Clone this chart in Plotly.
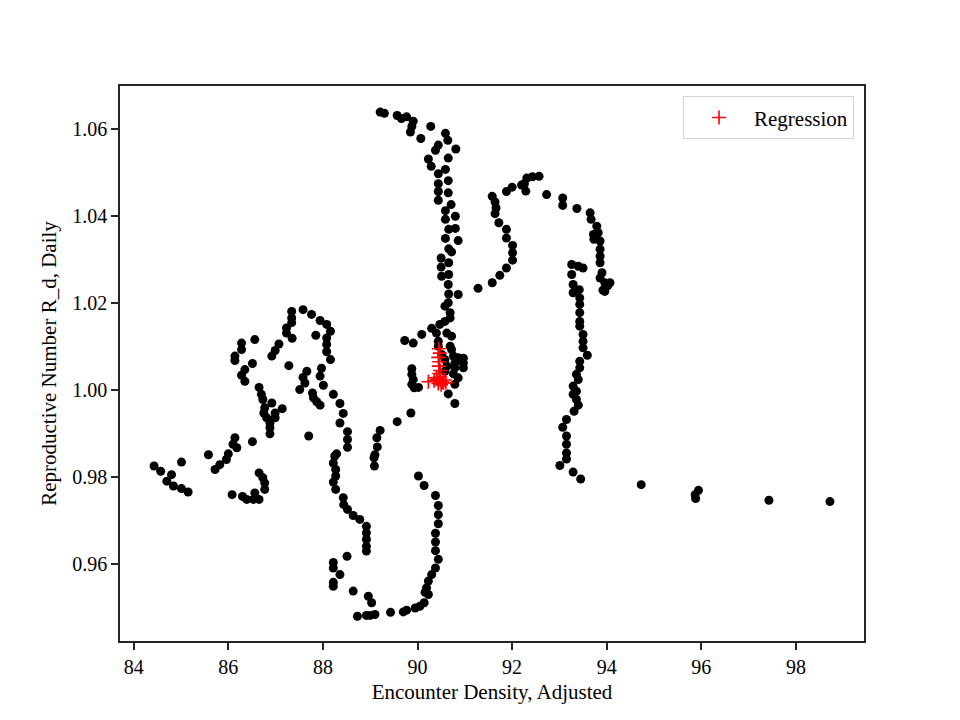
import plotly.graph_objects as go

# Black observation points (Encounter Density, Adjusted ; Reproductive Number R_d)
obs_x = [
    89.21, 89.30, 89.57, 89.66, 89.77, 89.91, 89.88, 89.85, 90.07, 90.28, 90.59, 90.64, 90.81, 90.44, 90.38,
    90.23, 90.29, 90.65, 90.59, 90.44, 90.65, 90.44, 90.44, 90.65, 90.44, 90.71, 90.59, 90.80, 90.59, 90.66,
    90.80, 90.59, 90.86, 90.66, 90.72, 90.50, 90.66, 90.50, 90.51, 90.66, 90.65, 90.86, 90.66, 90.65, 90.58,
    90.69, 90.69, 90.58, 90.47, 90.30, 90.40, 90.62, 90.72, 90.09, 89.73, 89.91, 90.44, 90.44, 90.69, 90.72,
    90.51, 90.76, 90.86, 90.97, 90.58, 90.79, 90.97, 90.62, 90.79, 90.97, 90.58, 90.76, 90.86, 90.79, 90.65,
    90.79, 89.88, 89.88, 89.91, 89.88, 90.02, 89.93, 89.86, 89.57, 89.21, 89.14, 89.15, 89.10, 89.08, 89.09,
    91.28, 91.58, 91.74, 91.88, 92.01, 92.01, 92.01, 91.88, 91.88, 91.72, 91.64, 91.66, 91.64, 91.58, 91.88,
    92.00, 92.20, 92.26, 92.29, 92.31, 92.43, 92.57, 92.73, 93.07, 93.07, 93.37, 93.65, 93.67, 93.79, 93.72,
    93.82, 93.73, 93.86, 93.86, 93.86, 93.86, 93.86, 93.96, 93.96, 94.07, 93.90, 94.02, 93.92, 93.26, 93.40,
    93.50, 93.26, 93.29, 93.29, 93.42, 93.43, 93.43, 93.43, 93.43, 93.43, 93.50, 93.50, 93.50, 93.59, 93.43,
    93.43, 93.36, 93.40, 93.29, 93.36, 93.29, 93.36, 93.40, 93.31, 93.15, 93.07, 93.15, 93.15, 93.15, 93.15,
    93.01, 93.29, 93.45, 94.73, 95.87, 95.88, 95.94, 97.43, 98.72,
    87.34, 87.34, 87.34, 87.23, 87.23, 87.35, 87.58, 87.76, 87.94, 88.08, 88.16, 88.08, 88.08, 88.08, 88.16,
    87.85, 86.56, 86.28, 86.28, 86.14, 86.14, 86.51, 86.35, 86.28, 86.35, 87.07, 86.99, 86.92, 87.28, 87.66,
    87.58, 87.62, 87.51, 87.97, 87.94, 88.01, 87.78, 87.80, 87.87, 87.94, 88.22, 88.36, 88.43, 88.36, 88.52,
    88.52, 88.52, 88.29, 87.70, 86.65, 86.70, 86.73, 86.92, 87.14, 86.77, 86.75, 86.99, 86.81, 86.99, 86.88,
    86.88, 86.88, 86.14, 86.51, 86.10, 86.18, 86.00, 85.58, 84.43, 84.57, 84.80, 84.70, 84.84, 85.01, 85.15,
    85.01, 85.72, 85.82, 85.96, 86.65, 86.73, 86.77, 86.77, 86.08, 86.30, 86.39, 86.53, 86.56, 86.65, 88.25,
    88.22, 88.27, 88.27, 88.22, 88.27, 88.43, 88.44, 88.52, 88.64, 88.78, 88.92, 88.92, 88.92, 88.92, 88.92,
    88.51, 88.22, 88.22, 88.36, 88.22, 88.22, 88.64, 88.96, 89.03, 88.73, 88.92, 89.00, 89.10, 89.43, 89.70,
    89.77, 89.95, 90.05, 90.14, 90.23, 90.16, 90.19, 90.23, 90.30, 90.38, 90.44, 90.38, 90.38, 90.38, 90.44,
    90.44, 90.44, 90.38, 90.14, 90.02,
]
obs_y = [
    1.0640, 1.0637, 1.0632, 1.0625, 1.0629, 1.0619, 1.0607, 1.0594, 1.0579, 1.0607, 1.0591, 1.0575, 1.0555, 1.0564, 1.0552,
    1.0532, 1.0515, 1.0534, 1.0508, 1.0498, 1.0482, 1.0475, 1.0457, 1.0454, 1.0437, 1.0427, 1.0413, 1.0400, 1.0393, 1.0370,
    1.0372, 1.0349, 1.0344, 1.0325, 1.0318, 1.0304, 1.0293, 1.0283, 1.0262, 1.0266, 1.0243, 1.0220, 1.0221, 1.0201, 1.0193,
    1.0178, 1.0166, 1.0158, 1.0151, 1.0142, 1.0131, 1.0131, 1.0124, 1.0128, 1.0114, 1.0108, 1.0112, 1.0101, 1.0101, 1.0093,
    1.0082, 1.0078, 1.0074, 1.0073, 1.0070, 1.0062, 1.0062, 1.0055, 1.0051, 1.0051, 1.0043, 1.0037, 1.0028, 1.0013, 0.9991,
    0.9969, 1.0049, 1.0036, 1.0024, 1.0013, 1.0006, 1.0005, 0.9947, 0.9927, 0.9907, 0.9890, 0.9869, 0.9851, 0.9844, 0.9825,
    1.0234, 1.0247, 1.0264, 1.0281, 1.0299, 1.0316, 1.0333, 1.0350, 1.0370, 1.0385, 1.0406, 1.0419, 1.0433, 1.0446, 1.0457,
    1.0467, 1.0472, 1.0475, 1.0458, 1.0488, 1.0491, 1.0492, 1.0450, 1.0442, 1.0425, 1.0418, 1.0408, 1.0393, 1.0377, 1.0358,
    1.0362, 1.0347, 1.0343, 1.0324, 1.0308, 1.0293, 1.0258, 1.0247, 1.0227, 1.0247, 1.0270, 1.0240, 1.0230, 1.0289, 1.0285,
    1.0281, 1.0266, 1.0243, 1.0224, 1.0231, 1.0212, 1.0197, 1.0178, 1.0158, 1.0147, 1.0128, 1.0112, 1.0097, 1.0080, 1.0066,
    1.0051, 1.0036, 1.0024, 1.0009, 0.9997, 0.9990, 0.9978, 0.9965, 0.9951, 0.9932, 0.9914, 0.9894, 0.9875, 0.9855, 0.9841,
    0.9826, 0.9811, 0.9795, 0.9782, 0.9759, 0.9750, 0.9769, 0.9746, 0.9743,
    1.0181, 1.0166, 1.0155, 1.0143, 1.0131, 1.0119, 1.0185, 1.0174, 1.0160, 1.0151, 1.0135, 1.0120, 1.0105, 1.0088, 1.0070,
    1.0126, 1.0116, 1.0108, 1.0093, 1.0078, 1.0068, 1.0061, 1.0047, 1.0034, 1.0020, 1.0106, 1.0091, 1.0078, 1.0056, 1.0043,
    1.0029, 1.0016, 1.0001, 1.0050, 1.0032, 1.0011, 0.9993, 0.9982, 0.9973, 0.9965, 0.9990, 0.9969, 0.9946, 0.9924, 0.9904,
    0.9886, 0.9868, 0.9853, 0.9894, 1.0006, 0.9990, 0.9978, 0.9970, 0.9957, 0.9959, 0.9947, 0.9947, 0.9936, 0.9936, 0.9924,
    0.9913, 0.9899, 0.9890, 0.9881, 0.9875, 0.9867, 0.9853, 0.9851, 0.9825, 0.9813, 0.9805, 0.9790, 0.9779, 0.9773, 0.9765,
    0.9834, 0.9817, 0.9828, 0.9840, 0.9809, 0.9798, 0.9786, 0.9771, 0.9759, 0.9755, 0.9748, 0.9748, 0.9763, 0.9748, 0.9848,
    0.9832, 0.9817, 0.9802, 0.9788, 0.9771, 0.9752, 0.9736, 0.9725, 0.9711, 0.9702, 0.9686, 0.9671, 0.9656, 0.9640, 0.9629,
    0.9617, 0.9603, 0.9590, 0.9575, 0.9557, 0.9548, 0.9537, 0.9525, 0.9510, 0.9479, 0.9481, 0.9481, 0.9483, 0.9488, 0.9489,
    0.9493, 0.9498, 0.9502, 0.9510, 0.9529, 0.9534, 0.9544, 0.9560, 0.9575, 0.9590, 0.9610, 0.9630, 0.9650, 0.9670, 0.9692,
    0.9713, 0.9734, 0.9757, 0.9780, 0.9802,
]

# Regression points (red crosses)
reg_x = [90.45, 90.47, 90.44, 90.46, 90.45, 90.48, 90.46, 90.47,
         90.23, 90.35, 90.42, 90.48, 90.52, 90.55, 90.44, 90.58, 90.40, 90.50, 90.60]
reg_y = [1.0095, 1.0085, 1.0075, 1.0065, 1.0055, 1.0045, 1.0038, 1.0030,
         1.0019, 1.0021, 1.0024, 1.0022, 1.0018, 1.0016, 1.0015, 1.0023, 1.0028, 1.0012, 1.0017]

x_ticks = [84, 86, 88, 90, 92, 94, 96, 98]
y_ticks = [0.96, 0.98, 1.00, 1.02, 1.04, 1.06]
x_range = [83.71, 99.44]
y_range = [0.9422, 1.0700]

FONT = "Liberation Serif, Times New Roman, serif"

fig = go.Figure()
fig.add_trace(go.Scatter(
    x=obs_x, y=obs_y, mode="markers", showlegend=False,
    marker=dict(color="black", size=9, line=dict(width=0)),
))
fig.add_trace(go.Scatter(
    x=reg_x, y=reg_y, mode="markers", name="Regression",
    marker=dict(symbol="cross-thin", color="red", size=10, line=dict(color="red", width=1.6)),
))

axis_common = dict(
    showline=True, linecolor="#262626", linewidth=1.6, mirror=True,
    ticks="outside", ticklen=7, tickwidth=1.6, tickcolor="#262626",
    showgrid=False, zeroline=False,
    tickfont=dict(family=FONT, size=20, color="black"),
)

fig.update_layout(
    width=952, height=712,
    margin=dict(l=112, r=96, t=78, b=79, pad=0),
    paper_bgcolor="white", plot_bgcolor="white",
    font=dict(family=FONT, size=21, color="black"),
    xaxis=dict(range=x_range, tickvals=x_ticks, ticktext=[str(v) for v in x_ticks],
               title=dict(text="Encounter Density, Adjusted", font=dict(family=FONT, size=21), standoff=8),
               **axis_common),
    yaxis=dict(range=y_range, tickvals=y_ticks, ticktext=[f"{v:.2f}" for v in y_ticks],
               title=dict(text="Reproductive Number R_d, Daily", font=dict(family=FONT, size=21), standoff=10),
               **axis_common),
    legend=dict(x=0.9866, y=0.9814, xanchor="right", yanchor="top",
                bgcolor="white", bordercolor="#d4d4d4", borderwidth=1,
                itemwidth=60,
                font=dict(family=FONT, size=21, color="black")),
)

fig.write_html("out.html")
